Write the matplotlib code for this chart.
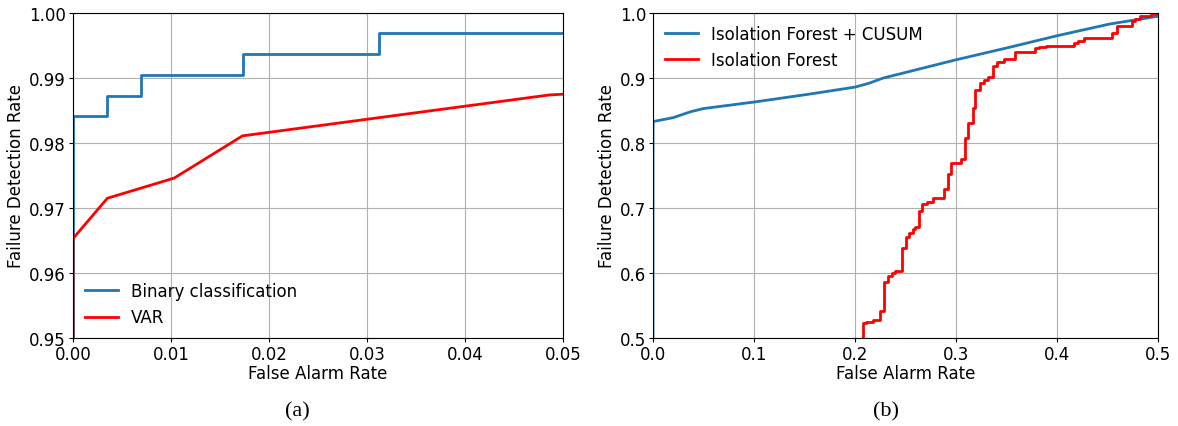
import matplotlib.pyplot as plt

# (a) binary classification vs VAR
bin_far = [0.0, 0.0, 0.00351, 0.00351, 0.00691, 0.00691, 0.0173, 0.0173, 0.0312, 0.0312, 0.05]
bin_fdr = [0.90, 0.9842, 0.9842, 0.9873, 0.9873, 0.9905, 0.9905, 0.9937, 0.9937, 0.9969, 0.9969]

var_far = [0.0, 0.0, 0.00351, 0.01032, 0.0173, 0.04864, 0.05]
var_fdr = [0.90, 0.9653, 0.9715, 0.9746, 0.9811, 0.9874, 0.9875]

# (b) isolation forest with / without CUSUM
cusum_far = [0.0, 0.0, 0.020, 0.037, 0.050, 0.100, 0.154, 0.200, 0.214, 0.228,
             0.241, 0.300, 0.355, 0.400, 0.452, 0.500]
cusum_fdr = [0.0, 0.833, 0.839, 0.848, 0.853, 0.863, 0.875, 0.886, 0.892, 0.900,
             0.905, 0.928, 0.948, 0.965, 0.983, 0.995]

iforest_far = [0.2078, 0.2078, 0.2111, 0.2178, 0.2252, 0.2286, 0.2329, 0.2363, 0.2396,
               0.2463, 0.2500, 0.2537, 0.2570, 0.2597, 0.2634, 0.2668, 0.2708, 0.2775,
               0.2882, 0.2916, 0.2949, 0.3050, 0.3090, 0.3123, 0.3164, 0.3190, 0.3234,
               0.3278, 0.3318, 0.3368, 0.3401, 0.3475, 0.3586, 0.3787, 0.3820, 0.3887,
               0.4166, 0.4206, 0.4266, 0.4541, 0.4591, 0.4742, 0.4775, 0.4826, 0.4926,
               0.5000]
iforest_fdr = [0.40, 0.523, 0.525, 0.528, 0.541, 0.586, 0.595, 0.600, 0.603,
               0.639, 0.655, 0.661, 0.667, 0.671, 0.696, 0.706, 0.710, 0.715,
               0.729, 0.753, 0.769, 0.776, 0.808, 0.831, 0.854, 0.881, 0.892,
               0.897, 0.902, 0.918, 0.924, 0.930, 0.940, 0.946, 0.948, 0.950,
               0.954, 0.957, 0.962, 0.970, 0.980, 0.987, 0.991, 0.996, 0.998,
               1.000]

plt.rcParams['font.family'] = 'DejaVu Sans'
fs = 12

fig = plt.figure(figsize=(11.78, 4.27), dpi=100)
ax1 = fig.add_axes([73 / 1178, 88 / 427, 490 / 1178, 325 / 427])
ax2 = fig.add_axes([653 / 1178, 88 / 427, 505 / 1178, 325 / 427])

ax1.plot(bin_far, bin_fdr, color='#1f77b4', lw=2, label='Binary classification')
ax1.plot(var_far, var_fdr, color='red', lw=2, label='VAR')
ax1.set_xlim(0, 0.05)
ax1.set_ylim(0.95, 1.0)
ax1.set_xticks([0.0, 0.01, 0.02, 0.03, 0.04, 0.05])
ax1.set_xticklabels(['0.00', '0.01', '0.02', '0.03', '0.04', '0.05'])
ax1.set_yticks([0.95, 0.96, 0.97, 0.98, 0.99, 1.00])
ax1.set_yticklabels(['0.95', '0.96', '0.97', '0.98', '0.99', '1.00'])
ax1.legend(loc='lower left', frameon=False, fontsize=fs, handlelength=2,
           borderaxespad=0.3)

ax2.plot(cusum_far, cusum_fdr, color='#1f77b4', lw=2, label='Isolation Forest + CUSUM')
ax2.plot(iforest_far, iforest_fdr, color='red', lw=2, drawstyle='steps-post',
         label='Isolation Forest')
ax2.set_xlim(0, 0.5)
ax2.set_ylim(0.5, 1.0)
ax2.set_xticks([0.0, 0.1, 0.2, 0.3, 0.4, 0.5])
ax2.set_yticks([0.5, 0.6, 0.7, 0.8, 0.9, 1.0])
ax2.legend(loc='upper left', frameon=False, fontsize=fs, handlelength=2,
           borderaxespad=0.3)

for ax in (ax1, ax2):
    ax.grid(True, color='#b0b0b0', lw=0.8)
    ax.tick_params(labelsize=fs, pad=2, length=3)
    ax.set_xlabel('False Alarm Rate', fontsize=fs, labelpad=1)
    ax.set_ylabel('Failure Detection Rate', fontsize=fs, labelpad=3)

fig.text(297 / 1178, 1 - 412 / 427, '(a)', ha='center', va='center',
         family='Liberation Serif', fontsize=16)
fig.text(886 / 1178, 1 - 412 / 427, '(b)', ha='center', va='center',
         family='Liberation Serif', fontsize=16)

plt.savefig('out.png', dpi=100)
